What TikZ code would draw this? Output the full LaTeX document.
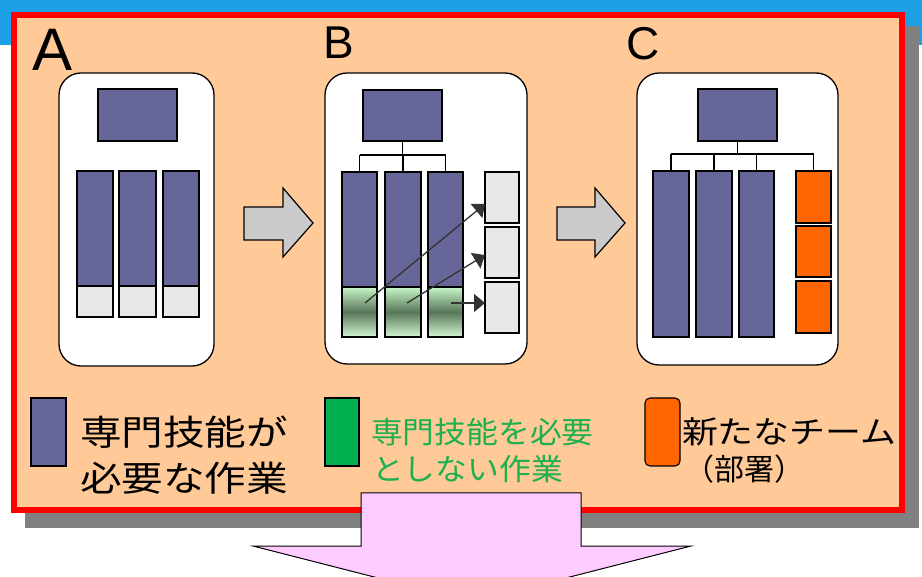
\documentclass[tikz,border=0pt]{standalone}
\usepackage{fontspec}
\setmainfont{Liberation Sans}
\newfontfamily\jp{Noto Sans CJK JP}
\usetikzlibrary{arrows.meta,calc}
\definecolor{bandblue}{HTML}{1EA0E6}
\definecolor{peach}{HTML}{FFCA98}
\definecolor{shadowgray}{HTML}{808080}
\definecolor{skillpurple}{HTML}{666699}
\definecolor{emptygray}{HTML}{E8E8E8}
\definecolor{blockgray}{HTML}{CACACA}
\definecolor{teamorange}{HTML}{FF6600}
\definecolor{legendgreen}{HTML}{00B050}
\definecolor{textgreen}{HTML}{1DB04F}
\definecolor{pinkfill}{HTML}{FFCCFF}
\definecolor{greenlight}{HTML}{C8F6C8}
\definecolor{greendark}{HTML}{5A765A}
\definecolor{arrowdark}{HTML}{333333}
\newcommand{\rb}[6]{\node[#6,minimum width={(#4)-(#2)},minimum height={(#5)-(#3)}] (#1) at ({((#2)+(#4))/2},{((#3)+(#5))/2}) {};}
\begin{document}
\begin{tikzpicture}[x=1pt,y=-1pt,
  cell/.style={draw=black,line width=1.1pt,inner sep=0pt,outer sep=0pt},
  purplecell/.style={cell,fill=skillpurple},
  graycell/.style={cell,fill=emptygray},
  orangecell/.style={cell,fill=teamorange},
  greencell/.style={cell,top color=greenlight,bottom color=greenlight!80!white,middle color=greendark},
  panel/.style={draw=black,line width=1.3pt,fill=white,rounded corners=22pt,inner sep=0pt,outer sep=0pt},
  orgline/.style={draw=black,line width=1.1pt},
  movearrow/.style={draw=arrowdark,line width=1.3pt,-{Triangle[length=11pt,width=18pt]}},
  blockarrow/.style={draw=black,line width=1.2pt,fill=blockgray,line join=miter},
  letter/.style={anchor=base west,inner sep=0pt,outer sep=0pt},
  jtext/.style={anchor=base west,inner sep=0pt,outer sep=0pt}]
\useasboundingbox (0,0) rectangle (922,577);
\clip (0,0) rectangle (922,577);
% background
\fill[white] (0,0) rectangle (922,577);
\fill[bandblue] (0,0) rectangle (922,45);
\fill[shadowgray] (25,26) rectangle (919,528);
\draw[red,line width=6pt,fill=peach] (14,15) rectangle (902,510);
% letters
\node[letter,font=\fontsize{60}{60}\selectfont] (lA) at (32,71) {A};
\node[letter,font=\fontsize{46}{46}\selectfont] (lB) at (323,59) {B};
\node[letter,font=\fontsize{46}{46}\selectfont] (lC) at (626,60) {C};
% ---------- panel A
\rb{pA}{59}{73}{214}{366}{panel}
\rb{topA}{98}{89}{177}{141}{purplecell}
\rb{a1}{77}{171}{113}{286}{purplecell}
\rb{a2}{119}{171}{156}{286}{purplecell}
\rb{a3}{163}{171}{199}{286}{purplecell}
\rb{ag1}{77}{286}{113}{317}{graycell}
\rb{ag2}{119}{286}{156}{317}{graycell}
\rb{ag3}{163}{286}{199}{317}{graycell}
% ---------- panel B
\rb{pB}{325}{73}{527}{364}{panel}
\rb{topB}{363}{90}{442}{141}{purplecell}
\rb{b1}{342}{172}{377}{287}{purplecell}
\rb{b2}{385}{172}{421}{287}{purplecell}
\rb{b3}{428}{172}{463}{287}{purplecell}
\rb{g1}{342}{287}{377}{337}{greencell}
\rb{g2}{385}{287}{421}{337}{greencell}
\rb{g3}{428}{287}{463}{337}{greencell}
\rb{bx1}{485}{172}{519}{223}{graycell}
\rb{bx2}{485}{227}{519}{278}{graycell}
\rb{bx3}{485}{282}{519}{333}{graycell}
\coordinate (barB) at (0,155);
\draw[orgline] (topB.south) -- (topB.south |- barB);
\draw[orgline] (b1.north |- barB) -- (b3.north |- barB);
\draw[orgline] (b1.north |- barB) -- (b1.north);
\draw[orgline] (b2.north |- barB) -- (b2.north);
\draw[orgline] (b3.north |- barB) -- (b3.north);
\coordinate (s1) at (365,303);
\coordinate (s2) at (407,303);
\coordinate (s3) at (451,303);
\draw[movearrow] (s1) -- ([yshift=-6.5pt]bx1.west);
\draw[movearrow] (s2) -- ([yshift=-2.5pt]bx2.west);
\draw[movearrow] (s3) -- ([yshift=4.5pt]bx3.west);
% ---------- panel C
\rb{pC}{637}{73}{838}{365}{panel}
\rb{topC}{698}{89}{777}{141}{purplecell}
\rb{c1}{653}{171}{689}{337}{purplecell}
\rb{c2}{696}{171}{732}{337}{purplecell}
\rb{c3}{739}{171}{774}{337}{purplecell}
\rb{o1}{796}{171}{831}{223}{orangecell}
\rb{o2}{796}{226}{831}{277}{orangecell}
\rb{o3}{796}{281}{831}{333}{orangecell}
\coordinate (barC) at (0,154);
\draw[orgline] (topC.south) -- (topC.south |- barC);
\draw[orgline] (c1.north |- barC) -- (o1.north |- barC);
\draw[orgline] (c1.north |- barC) -- (c1.north);
\draw[orgline] (c2.north |- barC) -- (c2.north);
\draw[orgline] (c3.north |- barC) -- (c3.north);
\draw[orgline] (o1.north |- barC) -- (o1.north);
% ---------- block arrows between panels
\draw[blockarrow] (244,207) -- (283,207) -- (283,188) -- (313,223) -- (283,257) -- (283,240) -- (244,240) -- cycle;
\draw[blockarrow] (557,207) -- (595,207) -- (595,188) -- (625,223) -- (595,257) -- (595,240) -- (557,240) -- cycle;
% ---------- legend
\rb{kp}{31}{398}{66}{466}{cell,fill=skillpurple}
\rb{kg}{325}{398}{359}{466}{cell,fill=legendgreen}
\rb{ko}{645}{398}{680}{466}{cell,fill=teamorange,rounded corners=5pt}
\node[jtext,font=\jp\fontsize{35}{35}\selectfont] (t1a) at (80,446) {\scalebox{1.19}[1]{専門技能が}};
\node[jtext,font=\jp\fontsize{35}{35}\selectfont] (t1b) at (80,492) {\scalebox{1.19}[1]{必要な作業}};
\node[jtext,font=\jp\fontsize{30}{30}\selectfont,text=textgreen] (t2a) at (371,444) {\scalebox{1.06}[1]{専門技能を必要}};
\node[jtext,font=\jp\fontsize{30}{30}\selectfont,text=textgreen] (t2b) at (372,481) {\scalebox{1.06}[1]{としない作業}};
\node[jtext,font=\jp\fontsize{31}{31}\selectfont] (t3a) at (682,444) {\scalebox{1.16}[1]{新たなチーム}};
\node[jtext,font=\jp\fontsize{30}{30}\selectfont] (t3b) at (684,481) {（部署）};
% ---------- pink down arrow
\draw[draw=black,line width=1pt,fill=pinkfill] (361,493) -- (581,493) -- (581,546) -- (691,546) -- (472,602) -- (253,546) -- (361,546) -- cycle;
\end{tikzpicture}
\end{document}
